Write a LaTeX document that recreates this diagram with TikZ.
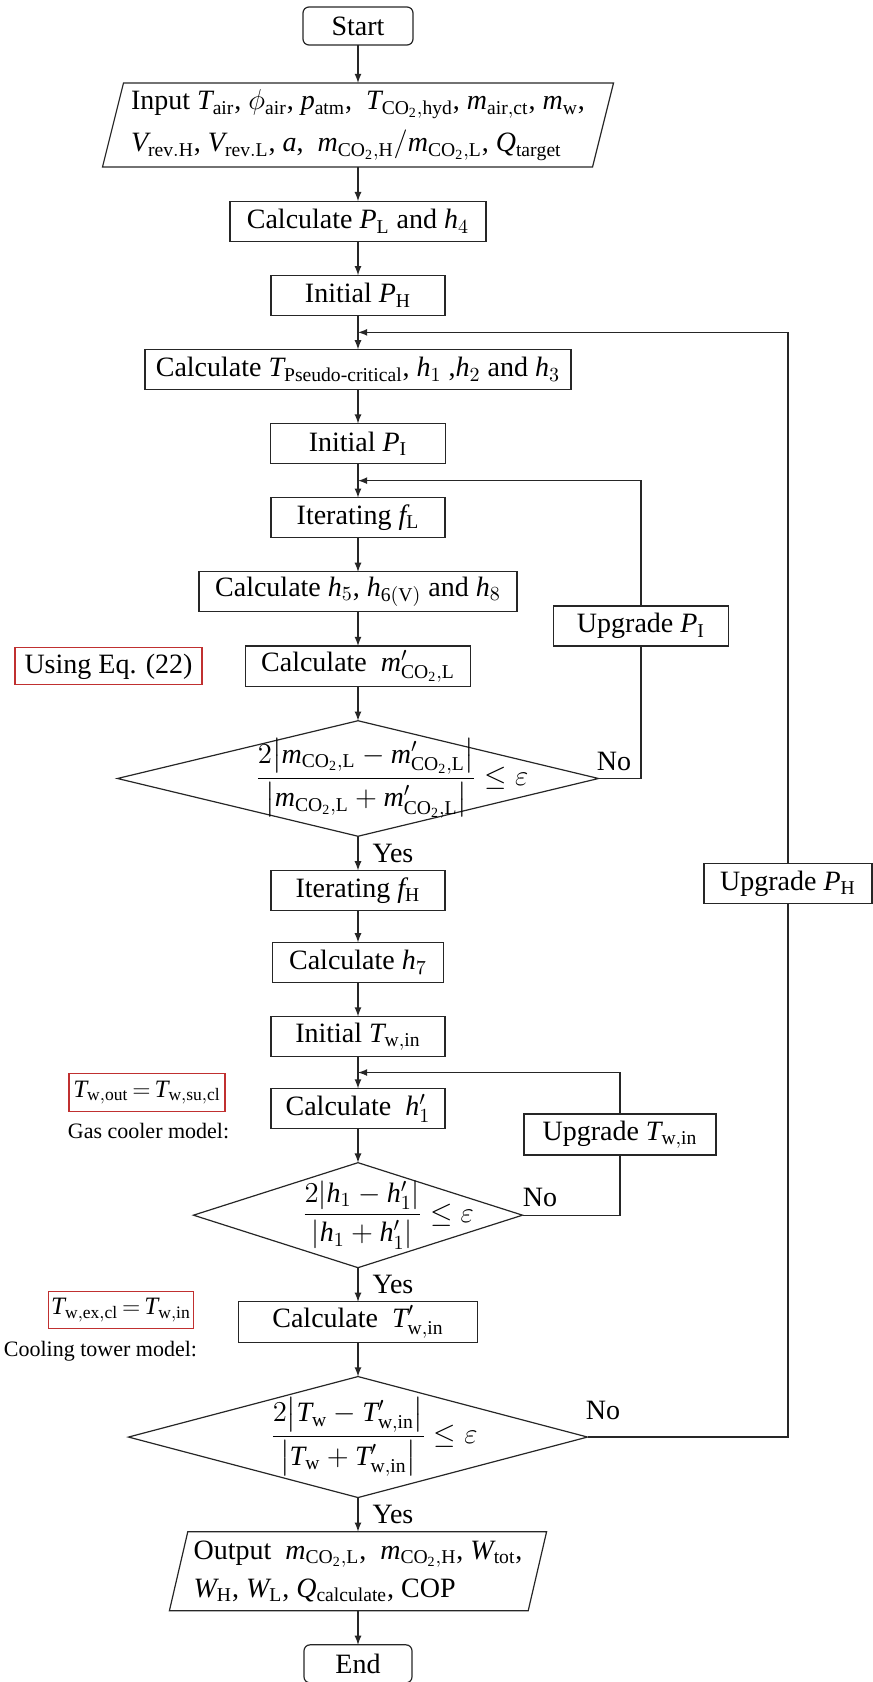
\documentclass[tikz,border=0pt]{standalone}
\usepackage{amsmath}
\usepackage{fontspec}
\setmainfont{Liberation Serif}
\usepackage{xcolor}
\usepackage{tikz}
\usetikzlibrary{shapes.geometric, arrows, positioning, calc}

\DeclareSymbolFont{tletters}{TU}{\rmdefault}{m}{it}
\DeclareMathSymbol{T}{\mathalpha}{tletters}{`T}
\DeclareMathSymbol{P}{\mathalpha}{tletters}{`P}
\DeclareMathSymbol{V}{\mathalpha}{tletters}{`V}
\DeclareMathSymbol{Q}{\mathalpha}{tletters}{`Q}
\DeclareMathSymbol{W}{\mathalpha}{tletters}{`W}
\DeclareMathSymbol{h}{\mathalpha}{tletters}{`h}
\DeclareMathSymbol{f}{\mathalpha}{tletters}{`f}
\DeclareMathSymbol{m}{\mathalpha}{tletters}{`m}
\DeclareMathSymbol{p}{\mathalpha}{tletters}{`p}
\DeclareMathSymbol{a}{\mathalpha}{tletters}{`a}

\definecolor{notered}{RGB}{192,48,48}
\newcommand{\rsub}[1]{_{\mathrm{#1}}}

\begin{document}
\begin{tikzpicture}[
    node distance=0.6cm and 0.6cm,
    font=\fontsize{14}{17}\selectfont,
    block/.style={rectangle, draw=black!85, line width=0.6pt, outer sep=0pt,
      minimum height=20pt, inner ysep=2pt, align=center},
    term/.style={block, rounded corners=3pt, minimum height=19pt},
    io/.style={rectangle, inner sep=2pt, outer sep=0pt, align=left},
    decision/.style={diamond, draw=black!85, line width=0.6pt, inner sep=0pt, outer sep=0pt},
    note/.style={rectangle, draw=notered, line width=0.6pt, inner sep=2pt, outer sep=0pt},
    mathnote/.style={note, inner xsep=1pt, font=\fontsize{12.5}{15}\selectfont,
      execute at begin node={\thickmuskip=3mu}},
    remark/.style={font=\fontsize{11}{13}\selectfont, inner sep=0pt},
    tag/.style={inner sep=1pt},
    line/.style={draw=black!85, line width=0.6pt},
    arrow/.style={line, -latex}
]
\useasboundingbox (0,0) rectangle (436.5pt,-841pt);

\node[term, minimum width=55pt] (start) at (179pt,-13pt) {Start};
\node[io, minimum width=245pt, minimum height=42pt, below=19pt of start,
  font=\fontsize{14}{21}\selectfont] (input)
  {Input $T\rsub{air}$, $\phi\rsub{air}$, $p\rsub{atm}$, \ $T_{\mathrm{CO_2,hyd}}$, $m\rsub{air,ct}$, $m\rsub{w}$,\\
   $V\rsub{rev.H}$, $V\rsub{rev.L}$, $a$, \ $m_{\mathrm{CO_2,H}}/m_{\mathrm{CO_2,L}}$, $Q\rsub{target}$};
\node[block, minimum width=128pt, below=of input] (calcPL) {Calculate $P\rsub{L}$ and $h_4$};
\node[block, minimum width=87pt, below=of calcPL] (initPH) {Initial $P\rsub{H}$};
\node[block, minimum width=213pt, below=of initPH] (calcT)
  {Calculate $T_{\text{Pseudo-critical}}$, $h_1$ ,$h_2$ and $h_3$};
\node[block, minimum width=87.5pt, below=of calcT] (initPI) {Initial $P\rsub{I}$};
\node[block, minimum width=87pt, below=of initPI] (iterL) {Iterating $f\rsub{L}$};
\node[block, minimum width=159pt, below=of iterL] (calcH5) {Calculate $h_5$, $h\rsub{6(V)}$ and $h_8$};
\node[block, minimum width=112.5pt, below=of calcH5] (calcM) {Calculate \ $m'_{\mathrm{CO_2,L}}$};
\node[decision, minimum width=240.5pt, minimum height=57.75pt, below=of calcM] (chk1) {};
\node[inner sep=0pt, xshift=17pt] (chk1txt) at (chk1)
  {$\dfrac{2{\left|m_{\mathrm{CO_2,L}}-m'_{\mathrm{CO_2,L}}\right|}}{\left|m_{\mathrm{CO_2,L}}+m'_{\mathrm{CO_2,L}}\right|}\le\varepsilon$};
\node[block, minimum width=87pt, below=of chk1] (iterH) {Iterating $f\rsub{H}$};
\node[block, minimum width=85.5pt, below=16pt of iterH] (calcH7) {Calculate $h_7$};
\node[block, minimum width=87pt, below=of calcH7] (initTw) {Initial $T\rsub{w,in}$};
\node[block, minimum width=87pt, below=16pt of initTw] (calcH1) {Calculate \ $h'_1$};
\node[decision, minimum width=164.5pt, minimum height=52.5pt, below=of calcH1] (chk2) {};
\node[inner sep=0pt, xshift=15pt] (chk2txt) at (chk2)
  {$\dfrac{2|h_1-h'_1|}{|h_1+h'_1|}\le\varepsilon$};
\node[block, minimum width=119.5pt, below=of chk2] (calcTw) {Calculate \ $T'_{\mathrm{w,in}}$};
\node[decision, minimum width=229.5pt, minimum height=60.5pt, below=of calcTw] (chk3) {};
\node[inner sep=0pt, xshift=8pt] (chk3txt) at (chk3)
  {$\dfrac{2{\left|T\rsub{w}-T'_{\mathrm{w,in}}\right|}}{\left|T\rsub{w}+T'_{\mathrm{w,in}}\right|}\le\varepsilon$};
\node[io, minimum width=179.4pt, minimum height=39.5pt, below=of chk3,
  font=\fontsize{14}{19}\selectfont] (output)
  {Output \ $m_{\mathrm{CO_2,L}}$, \ $m_{\mathrm{CO_2,H}}$, $W\rsub{tot}$,\\
   $W\rsub{H}$, $W\rsub{L}$, $Q\rsub{calculate}$, COP};
\node[term, minimum width=54pt, below=of output] (end) {End};

\node[block, minimum width=87.5pt] (upPI) at (320.5pt,-313pt) {Upgrade $P\rsub{I}$};
\node[block, minimum width=84pt] (upPH) at (394pt,-441.75pt) {Upgrade $P\rsub{H}$};
\node[block, minimum width=96pt, minimum height=20.5pt] (upTw) at (310pt,-567.25pt) {Upgrade $T\rsub{w,in}$};

\node[note, minimum width=93.5pt, minimum height=18.5pt, left=21.75pt of calcM] (eqnote) {Using Eq. (22)};
\node[mathnote, minimum width=78pt, minimum height=19pt, left=23pt of calcH1, yshift=8pt] (woutnote)
  {$T\rsub{w,out}=T\rsub{w,su,cl}$};
\node[remark, below=5.5pt of woutnote.south west, anchor=north west, xshift=-0.75pt] (gasnote)
  {Gas cooler model:};
\node[mathnote, minimum width=72.5pt, minimum height=18.25pt, left=22.5pt of calcTw, yshift=6pt] (wexnote)
  {$T\rsub{w,ex,cl}=T\rsub{w,in}$};
\node[remark, below=6pt of wexnote.south west, anchor=north west, xshift=-22.5pt] (coolnote)
  {Cooling tower model:};

\draw[line] ($(input.south west)+(-5.25pt,0)$) -- ($(input.north west)+(5.25pt,0)$)
  -- ($(input.north east)+(5.25pt,0)$) -- ($(input.south east)+(-5.25pt,0)$) -- cycle;
\draw[line] ($(output.south west)+(-4.6pt,0)$) -- ($(output.north west)+(4.6pt,0)$)
  -- ($(output.north east)+(4.6pt,0)$) -- ($(output.south east)+(-4.6pt,0)$) -- cycle;

\draw[arrow] (start) -- (input);
\draw[arrow] (input) -- (calcPL);
\draw[arrow] (calcPL) -- (initPH);
\draw[arrow] (initPH) -- (calcT);
\draw[arrow] (calcT) -- (initPI);
\draw[arrow] (initPI) -- (iterL);
\draw[arrow] (iterL) -- (calcH5);
\draw[arrow] (calcH5) -- (calcM);
\draw[arrow] (calcM) -- (chk1);
\draw[arrow] (chk1) -- node[tag, right=6pt] (yes1) {Yes} (iterH);
\draw[arrow] (iterH) -- (calcH7);
\draw[arrow] (calcH7) -- (initTw);
\draw[arrow] (initTw) -- (calcH1);
\draw[arrow] (calcH1) -- (chk2);
\draw[arrow] (chk2) -- node[tag, right=6pt] (yes2) {Yes} (calcTw);
\draw[arrow] (calcTw) -- (chk3);
\draw[arrow] (chk3) -- node[tag, right=6pt] (yes3) {Yes} (output);
\draw[arrow] (output) -- (end);

\coordinate (jPH) at ($(initPH.south)!0.5!(calcT.north)$);
\coordinate (jPI) at ($(initPI.south)!0.5!(iterL.north)$);
\coordinate (jTw) at ($(initTw.south)!0.5!(calcH1.north)$);

\draw[line] (chk1.east) -| (upPI.south);
\draw[arrow] (upPI.north) |- (jPI);
\draw[line] (chk2.east) -| (upTw.south);
\draw[arrow] (upTw.north) |- (jTw);
\draw[line] (chk3.east) -| (upPH.south);
\draw[arrow] (upPH.north) |- (jPH);

\node[tag, anchor=south west] (no1) at ($(chk1.east)+(-2pt,2.5pt)$) {No};
\node[tag, anchor=south west] (no2) at ($(chk2.east)+(-1pt,3pt)$) {No};
\node[tag, anchor=south west] (no3) at ($(chk3.east)+(-2pt,7.5pt)$) {No};

\end{tikzpicture}
\end{document}
